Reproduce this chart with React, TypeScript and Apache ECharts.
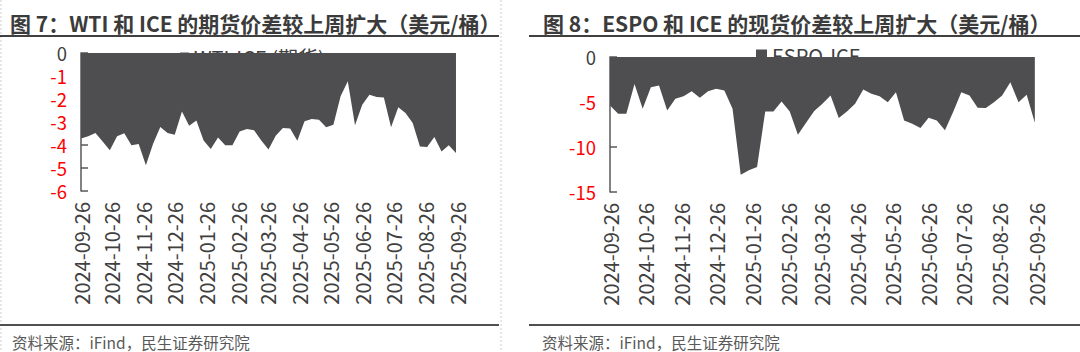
import React, { useEffect, useRef } from "react";
import * as echarts from "echarts";

const dates = [
  "2024-09-26", "2024-10-03", "2024-10-10", "2024-10-17", "2024-10-24", "2024-10-31",
  "2024-11-07", "2024-11-14", "2024-11-21", "2024-11-28", "2024-12-05", "2024-12-12",
  "2024-12-19", "2024-12-26", "2025-01-02", "2025-01-09", "2025-01-16", "2025-01-23",
  "2025-01-30", "2025-02-06", "2025-02-13", "2025-02-20", "2025-02-27", "2025-03-06",
  "2025-03-13", "2025-03-20", "2025-03-27", "2025-04-03", "2025-04-10", "2025-04-17",
  "2025-04-24", "2025-05-01", "2025-05-08", "2025-05-15", "2025-05-22", "2025-05-29",
  "2025-06-05", "2025-06-12", "2025-06-19", "2025-06-26", "2025-07-03", "2025-07-10",
  "2025-07-17", "2025-07-24", "2025-07-31", "2025-08-07", "2025-08-14", "2025-08-21",
  "2025-08-28", "2025-09-04", "2025-09-11", "2025-09-18", "2025-09-25",
];

const wtiIce = [
  -3.72, -3.62, -3.48, -3.85, -4.23, -3.62, -3.49, -4.01, -3.96, -4.88, -3.95, -3.22,
  -3.48, -3.55, -2.54, -3.16, -2.94, -3.8, -4.17, -3.67, -4.01, -4.01, -3.41, -3.3,
  -3.36, -3.8, -4.2, -3.6, -3.26, -3.28, -3.81, -2.97, -2.87, -2.9, -3.23, -3.12,
  -1.88, -1.23, -3.14, -2.25, -1.81, -1.91, -1.93, -3.23, -2.36, -2.61, -3.04, -4.06,
  -4.09, -3.65, -4.28, -4.01, -4.35,
];

const espoIce = [
  -5.4, -6.31, -6.31, -2.99, -5.75, -3.36, -3.17, -5.94, -4.65, -4.35, -3.8, -4.54,
  -3.8, -3.54, -3.72, -5.75, -13.07, -12.58, -12.21, -6.05, -6.05, -4.94, -6.05, -8.63,
  -7.3, -6.0, -5.2, -4.28, -6.79, -6.05, -5.2, -3.61, -4.09, -4.35, -5.02, -3.91,
  -7.05, -7.42, -7.9, -6.75, -7.05, -8.15, -6.12, -3.91, -4.28, -5.65, -5.68, -5.02,
  -4.28, -2.8, -5.02, -4.2, -7.31,
];

const tickLabels = [
  "2024-09-26", "2024-10-26", "2024-11-26", "2024-12-26", "2025-01-26", "2025-02-26",
  "2025-03-26", "2025-04-26", "2025-05-26", "2025-06-26", "2025-07-26", "2025-08-26",
  "2025-09-26",
];

const seriesNames = ["WTI-ICE (期货)", "ESPO-ICE"];
const titles = [
  "图 7：WTI 和 ICE 的期货价差较上周扩大（美元/桶）",
  "图 8：ESPO 和 ICE 的现货价差较上周扩大（美元/桶）",
];
const sourceText = "资料来源：iFind，民生证券研究院";

const FONT = '"Noto Sans CJK SC", "Noto Sans", sans-serif';
const AREA = "#4e4e50";
const DARK = "#404040";

const DAY = 86400000;
const base = Date.parse(tickLabels[0]);
const dayOf = (d: string) => (Date.parse(d) - base) / DAY;
const tickDays = tickLabels.map(dayOf);
const labelFor = (v: number) => {
  const i = tickDays.findIndex((d) => Math.abs(d - v) < 0.5);
  return i >= 0 ? tickLabels[i] : "";
};

export default function App() {
  const ref = useRef<HTMLDivElement>(null);
  useEffect(() => {
    if (!ref.current) return;
    const chart = echarts.init(ref.current, null, { renderer: "svg" });
    const xAxisCfg = (gridIndex: number) => ({
      type: "value",
      gridIndex,
      min: 0,
      max: tickDays[tickDays.length - 1],
      splitLine: { show: false },
      axisLine: { show: false },
      axisTick: { show: false },
      axisLabel: {
        customValues: tickDays,
        formatter: (v: number) => labelFor(v),
        rotate: 90,
        margin: 11,
        fontSize: 20,
        fontFamily: FONT,
        color: DARK,
      },
    });
    const yAxisCfg = (gridIndex: number, min: number, interval: number) => ({
      type: "value",
      gridIndex,
      min,
      max: 0,
      interval,
      splitLine: { show: false },
      axisLine: { show: true, onZero: false, lineStyle: { color: "#595959", width: 1.5 } },
      axisTick: { show: true, inside: true, length: 7, lineStyle: { color: "#595959", width: 1.5 } },
      axisLabel: {
        margin: 14,
        fontSize: 18.5,
        lineHeight: 18,
        fontFamily: FONT,
        color: (v: any) => (Number(v) === 0 ? DARK : "#ff0000"),
      },
    });
    const mkLine = (x1: number, y1: number, x2: number, y2: number, stroke: string, lineWidth: number, dash?: number[]) => ({
      type: "line",
      shape: { x1, y1, x2, y2 },
      style: { stroke, lineWidth, lineDash: dash },
      silent: true,
    });
    const mkText = (x: number, y: number, text: string, font: string, fill: string) => ({
      type: "text",
      x,
      y,
      style: { text, font, fill, verticalAlign: "middle", align: "left" },
      silent: true,
    });
    const option = {
      animation: false,
      grid: [
        { left: 81, top: 53, width: 376, height: 138 },
        { left: 610, top: 57, width: 426, height: 135 },
      ],
      xAxis: [xAxisCfg(0), xAxisCfg(1)],
      yAxis: [yAxisCfg(0, -6, 1), yAxisCfg(1, -15, 5)],
      legend: [
        {
          data: [seriesNames[0]],
          left: 175,
          top: 42,
          z: 1,
          itemWidth: 9,
          itemHeight: 9,
          itemGap: 5,
          icon: "rect",
          textStyle: { fontSize: 20, fontFamily: FONT, color: DARK },
        },
        {
          data: [seriesNames[1]],
          left: 751,
          top: 40,
          z: 1,
          itemWidth: 11,
          itemHeight: 11,
          icon: "rect",
          textStyle: { fontSize: 20, fontFamily: FONT, color: DARK },
        },
      ],
      series: [
        {
          name: seriesNames[0],
          type: "line",
          xAxisIndex: 0,
          yAxisIndex: 0,
          z: 3,
          symbol: "none",
          color: AREA,
          lineStyle: { width: 0 },
          areaStyle: { color: AREA, opacity: 1 },
          data: dates.map((d, i) => [dayOf(d), wtiIce[i]]),
        },
        {
          name: seriesNames[1],
          type: "line",
          xAxisIndex: 1,
          yAxisIndex: 1,
          z: 3,
          symbol: "none",
          color: AREA,
          lineStyle: { width: 0 },
          areaStyle: { color: AREA, opacity: 1 },
          data: dates.map((d, i) => [dayOf(d), espoIce[i]]),
        },
      ],
      graphic: [
        mkLine(1, 0, 1, 352, "#cfcfcf", 1, [2, 2]),
        mkLine(501, 0, 501, 352, "#cfcfcf", 1, [2, 2]),
        mkText(10, 22.5, titles[0], `bold 21px ${FONT}`, "#3b3b3b"),
        mkText(543, 22.5, titles[1], `bold 21px ${FONT}`, "#3b3b3b"),
        mkLine(0, 36, 499, 36, "#404040", 2),
        mkLine(529, 36, 1080, 36, "#404040", 2),
        mkLine(0, 325, 499, 325, "#505050", 2),
        mkLine(529, 325, 1080, 325, "#505050", 2),
        mkText(12, 342, sourceText, `15.5px ${FONT}`, "#595959"),
        mkText(542, 342, sourceText, `15.5px ${FONT}`, "#595959"),
      ],
    };
    chart.setOption(option as any);
    return () => chart.dispose();
  }, []);
  return (
    <div
      ref={ref}
      style={{ position: "absolute", left: 0, top: 0, width: 1080, height: 352, background: "#fff" }}
    />
  );
}
